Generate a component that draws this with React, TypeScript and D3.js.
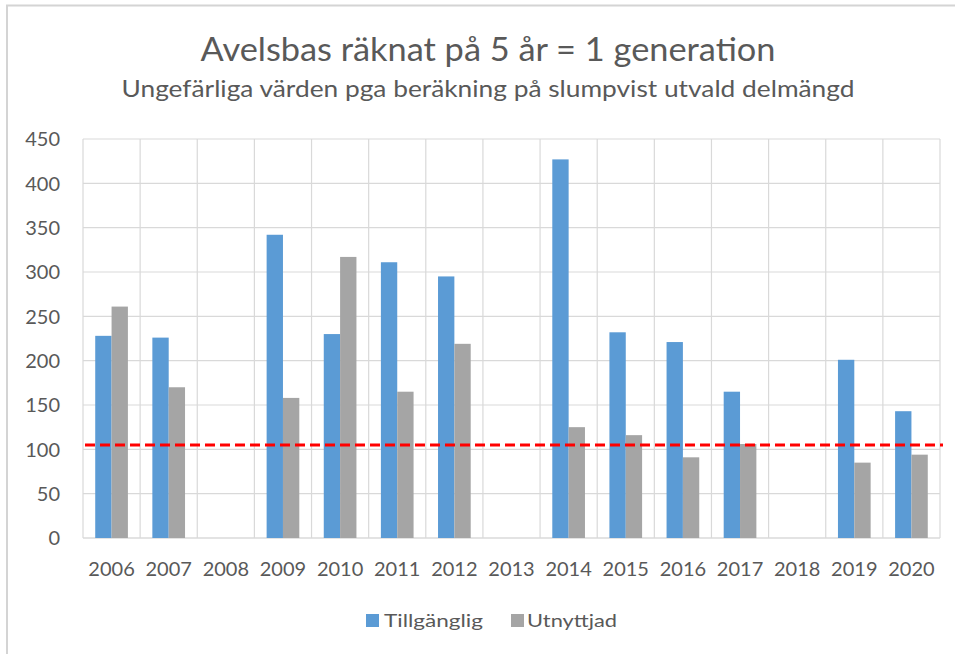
import React from "react";
import * as d3 from "d3";

const YEARS = ["2006", "2007", "2008", "2009", "2010", "2011", "2012", "2013", "2014", "2015", "2016", "2017", "2018", "2019", "2020"];
const TILLGANGLIG = [228, 226, null, 342, 230, 311, 295, null, 427, 232, 221, 165, null, 201, 143];
const UTNYTTJAD = [261, 170, null, 158, 317, 165, 219, null, 125, 116, 91, 106, null, 85, 94];
const Y_TICKS = [0, 50, 100, 150, 200, 250, 300, 350, 400, 450];
const THRESHOLD = 105;

const TITLE = "Avelsbas räknat på 5 år = 1 generation";
const SUBTITLE = "Ungefärliga värden pga beräkning på slumpvist utvald delmängd";

const WIDTH = 955;
const HEIGHT = 654;
const PLOT = { left: 83, right: 940, top: 139, bottom: 538 };
const BLUE = "#5b9bd5";
const GRAY = "#a5a5a5";
const TEXT = "#595959";
const GRID = "#d9d9d9";
const FONT = "Lato, 'Open Sans', sans-serif";

const App = () => {
  const xScale = d3.scaleBand<string>().domain(YEARS).range([PLOT.left, PLOT.right]).padding(0);
  const yScale = d3.scaleLinear().domain([0, 450]).range([PLOT.bottom, PLOT.top]);
  const barW = xScale.bandwidth() * 0.286;

  const series = [
    { name: "Tillgänglig", values: TILLGANGLIG, color: BLUE, offset: -1 },
    { name: "Utnyttjad", values: UTNYTTJAD, color: GRAY, offset: 0 },
  ];

  return (
    <svg
      width={WIDTH}
      height={HEIGHT}
      style={{ position: "absolute", left: 0, top: 0, background: "#fff" }}
      fontFamily={FONT}
    >
      {/* chart border (only top/left visible) */}
      <rect x={7} y={5.5} width={WIDTH + 20} height={HEIGHT + 20} fill="#fff" stroke="#d4d4d4" strokeWidth={2} />

      <text x={488} y={61} textAnchor="middle" fontSize={33} fill={TEXT} textLength={575} lengthAdjust="spacingAndGlyphs">
        {TITLE}
      </text>
      <text x={488} y={97} textAnchor="middle" fontSize={23} fill={TEXT} textLength={733} lengthAdjust="spacingAndGlyphs">
        {SUBTITLE}
      </text>

      {/* horizontal grid */}
      {Y_TICKS.map((t) => (
        <line key={"h" + t} x1={PLOT.left} x2={PLOT.right} y1={yScale(t)} y2={yScale(t)} stroke={t === 0 ? "#c8c8c8" : GRID} strokeWidth={1.2} />
      ))}
      {/* vertical grid */}
      {YEARS.map((y) => (
        <line key={"v" + y} x1={xScale(y)!} x2={xScale(y)!} y1={PLOT.top} y2={PLOT.bottom} stroke={GRID} strokeWidth={1.2} />
      ))}
      <line x1={PLOT.right} x2={PLOT.right} y1={PLOT.top} y2={PLOT.bottom} stroke={GRID} strokeWidth={1.2} />

      {/* y tick labels */}
      {Y_TICKS.map((t) => (
        <text key={"yl" + t} x={60} y={yScale(t)} dy="0.36em" textAnchor="end" fontSize={20} fill={TEXT}>
          {t}
        </text>
      ))}

      {/* x tick labels */}
      {YEARS.map((y) => (
        <text key={"xl" + y} x={xScale(y)! + xScale.bandwidth() / 2} y={576} textAnchor="middle" fontSize={20} fill={TEXT}>
          {y}
        </text>
      ))}

      {/* bars */}
      {series.map((s) =>
        s.values.map((v, i) => {
          if (v == null) return null;
          const cx = xScale(YEARS[i])! + xScale.bandwidth() / 2;
          return (
            <rect
              key={s.name + i}
              x={cx + s.offset * barW}
              width={barW}
              y={yScale(v)}
              height={yScale(0) - yScale(v)}
              fill={s.color}
            />
          );
        })
      )}

      {/* threshold line */}
      <line
        x1={PLOT.left + 2}
        x2={943}
        y1={yScale(THRESHOLD)}
        y2={yScale(THRESHOLD)}
        stroke="#ff0000"
        strokeWidth={3}
        strokeDasharray="10,5"
      />

      {/* legend */}
      <rect x={366} y={614} width={13} height={13} fill={BLUE} />
      <text x={384} y={627} fontSize={18} fill={TEXT} textLength={99} lengthAdjust="spacingAndGlyphs">
        Tillgänglig
      </text>
      <rect x={511} y={614} width={13} height={13} fill={GRAY} />
      <text x={527} y={627} fontSize={18} fill={TEXT} textLength={90} lengthAdjust="spacingAndGlyphs">
        Utnyttjad
      </text>
    </svg>
  );
};

export default App;
